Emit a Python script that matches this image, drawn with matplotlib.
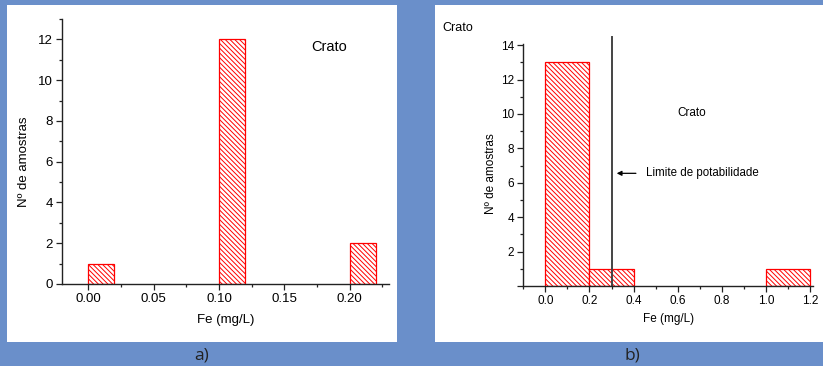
import numpy as np
import matplotlib
matplotlib.use('Agg')
import matplotlib.pyplot as plt
from matplotlib.patches import Rectangle
from matplotlib.ticker import MultipleLocator

plt.rcParams['font.family'] = ['Liberation Sans', 'DejaVu Sans']
plt.rcParams['hatch.color'] = 'red'
plt.rcParams['hatch.linewidth'] = 0.7

# panel a) - Crato, bins of 0.02 mg/L
fe_a = [0.00, 0.10, 0.20]
n_a = [1, 12, 2]
width_a = 0.02

# panel b) - Crato, bins of 0.2 mg/L
fe_b = [0.0, 0.2, 1.0]
n_b = [13, 1, 1]
width_b = 0.2
limite = 0.3   # limite de potabilidade (mg/L)

blue = '#6a8fca'
fig = plt.figure(figsize=(8.23, 3.66), dpi=100, facecolor=blue)
W, H = 823., 366.

def px(x0, y0, x1, y1):
    # pixel box (top-left origin) -> figure fraction
    return [x0 / W, 1 - y1 / H, (x1 - x0) / W, (y1 - y0) / H]

for box in [px(7, 5, 397, 342), px(435, 5, 823, 342)]:
    fig.add_artist(Rectangle(box[:2], box[2], box[3], transform=fig.transFigure,
                             facecolor='white', edgecolor='none', zorder=0))

def style(ax, fs):
    for s in ['top', 'right']:
        ax.spines[s].set_visible(False)
    for s in ['left', 'bottom']:
        ax.spines[s].set_linewidth(1.0)
        ax.spines[s].set_color('#222222')
    ax.tick_params(which='major', direction='out', length=4, width=0.9, labelsize=fs,
                   pad=2.5, color='#222222')
    ax.tick_params(which='minor', direction='out', length=2.5, width=0.9, color='#222222')
    ax.set_facecolor('none')

hatch = '\\' * 7

# ---- a)
ax1 = fig.add_axes(px(62, 19, 389, 284))
ax1.bar(fe_a, n_a, width=width_a, align='edge', facecolor='white', edgecolor='red',
        linewidth=0.9, hatch=hatch)
ax1.set_xlim(-0.02, 0.23)
ax1.set_ylim(0, 13)
ax1.set_xticks(np.arange(0, 0.21, 0.05))
ax1.set_xticklabels(['0.00', '0.05', '0.10', '0.15', '0.20'])
ax1.xaxis.set_minor_locator(MultipleLocator(0.025))
ax1.yaxis.set_major_locator(MultipleLocator(2))
ax1.yaxis.set_minor_locator(MultipleLocator(1))
style(ax1, 9.5)
ax1.set_xlabel('Fe (mg/L)', fontsize=9.5, va='center')
ax1.xaxis.set_label_coords(0.5, -0.136)
ax1.set_ylabel('Nº de amostras', fontsize=9.5, va='center')
ax1.yaxis.set_label_coords(-0.116, 0.46)
ax1.text(0.1707, 11.64, 'Crato', fontsize=10.5, va='center', ha='left')

# ---- b)
ax2 = fig.add_axes(px(523.2, 44.3, 812.7, 286))
ax2.bar(fe_b, n_b, width=width_b, align='edge', facecolor='white', edgecolor='red',
        linewidth=0.9, hatch=hatch)
ax2.set_xlim(-0.1, 1.21)
ax2.set_ylim(0, 14.05)
ax2.set_xticks(np.arange(0, 1.21, 0.2))
ax2.set_xticklabels(['0.0', '0.2', '0.4', '0.6', '0.8', '1.0', '1.2'])
ax2.xaxis.set_minor_locator(MultipleLocator(0.1))
ax2.set_yticks(np.arange(0, 15, 2))
ax2.set_yticklabels([''] + [str(v) for v in range(2, 15, 2)])
ax2.yaxis.set_minor_locator(MultipleLocator(1))
style(ax2, 8.5)
ax2.plot([limite, limite], [0, 14.5], color='#444444', lw=1.4, clip_on=False)
ax2.set_xlabel('Fe (mg/L)', fontsize=8.5, va='center')
ax2.xaxis.set_label_coords(0.501, -0.1365)
ax2.set_ylabel('Nº de amostras', fontsize=8.5, va='center')
ax2.yaxis.set_label_coords(-0.112, 0.463)
ax2.text(0.662, 10.08, 'Crato', fontsize=8.5, ha='center', va='center')
ax2.annotate('', xy=(0.323, 6.55), xytext=(0.41, 6.55),
             arrowprops=dict(arrowstyle='-|>', color='black', lw=0.9,
                             mutation_scale=7, shrinkA=0, shrinkB=0))
ax2.text(0.454, 6.55, 'Limite de potabilidade', fontsize=8.3, ha='left', va='center')
fig.text(442.7 / W, 1 - 28 / H, 'Crato', fontsize=9, ha='left', va='center')

fig.text(202 / W, 1 - 356 / H, 'a)', fontsize=12.5, ha='center', va='center',
         color='#222222', family=['Open Sans', 'DejaVu Sans'])
fig.text(632 / W, 1 - 356 / H, 'b)', fontsize=12.5, ha='center', va='center',
         color='#222222', family=['Open Sans', 'DejaVu Sans'])

fig.savefig('out.png', dpi=100, facecolor=blue)
